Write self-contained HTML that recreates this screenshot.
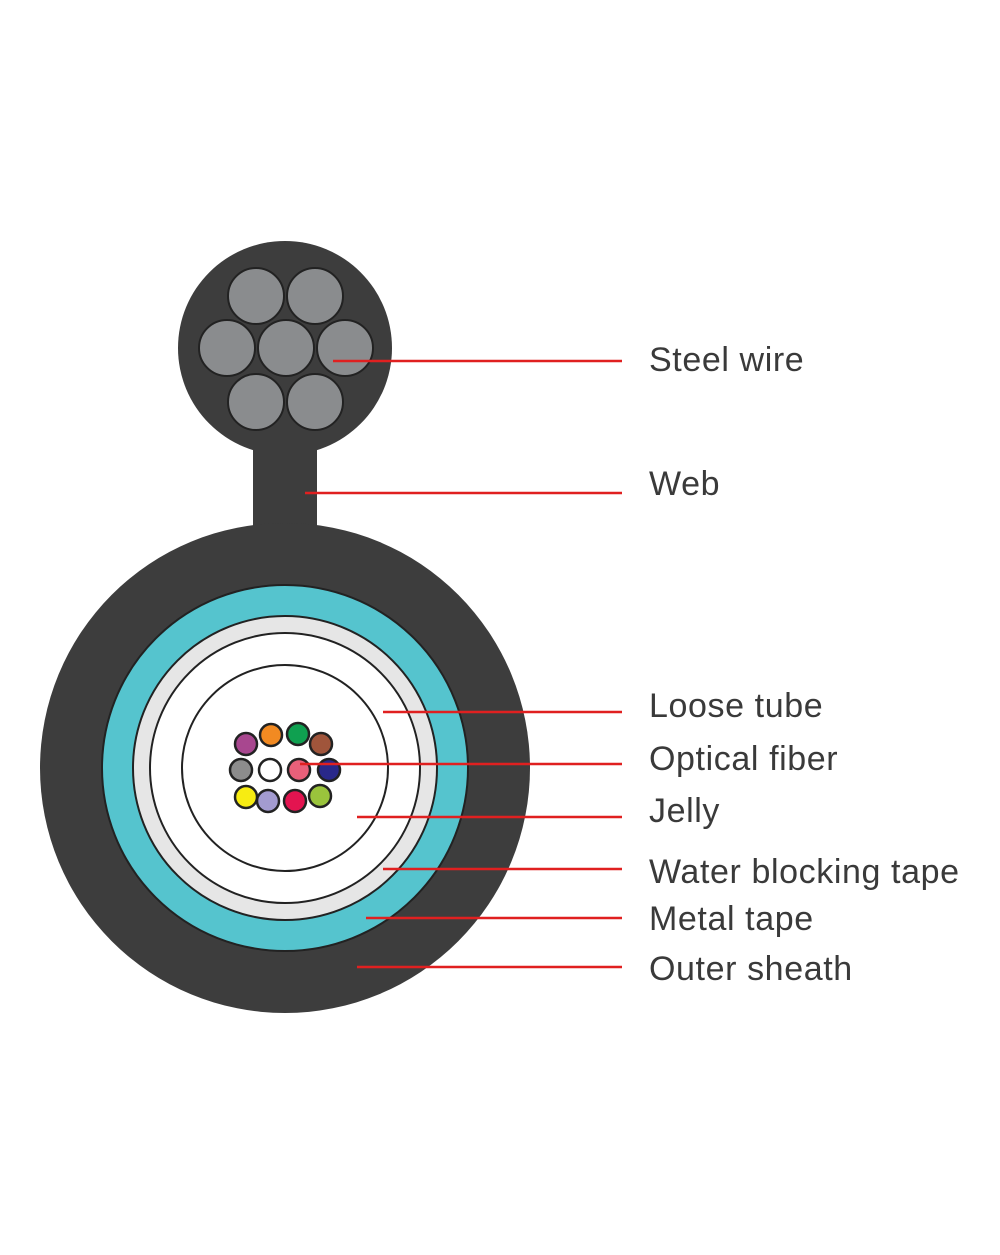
<!DOCTYPE html>
<html><head><style>body{margin:0;background:#fff}</style></head><body>
<svg width="1000" height="1250" xmlns="http://www.w3.org/2000/svg">
<rect width="1000" height="1250" fill="#fff"/>
<g fill="#3d3d3d">
<circle cx="285" cy="348" r="107"/>
<rect x="253" y="430" width="64" height="110"/>
<circle cx="285" cy="768" r="245"/>
</g>
<g fill="#8a8c8e" stroke="#222" stroke-width="2">
<circle cx="256" cy="296" r="28"/><circle cx="315" cy="296" r="28"/>
<circle cx="227" cy="348" r="28"/><circle cx="286" cy="348" r="28"/><circle cx="345" cy="348" r="28"/>
<circle cx="256" cy="402" r="28"/><circle cx="315" cy="402" r="28"/>
</g>
<circle cx="285" cy="768" r="183" fill="#55c4ce" stroke="#222" stroke-width="2"/>
<circle cx="285" cy="768" r="152" fill="#e6e6e6" stroke="#222" stroke-width="2"/>
<circle cx="285" cy="768" r="135" fill="#fff" stroke="#222" stroke-width="2"/>
<circle cx="285" cy="768" r="103" fill="#fff" stroke="#222" stroke-width="2"/>
<g stroke="#222" stroke-width="2.5">
<circle cx="271" cy="735" r="11" fill="#f28a22"/>
<circle cx="298" cy="734" r="11" fill="#0fa050"/>
<circle cx="246" cy="744" r="11" fill="#a8478f"/>
<circle cx="321" cy="744" r="11" fill="#a0553b"/>
<circle cx="241" cy="770" r="11" fill="#8c8c8c"/>
<circle cx="270" cy="770" r="11" fill="#fff"/>
<circle cx="299" cy="770" r="11" fill="#e9607a"/>
<circle cx="329" cy="770" r="11" fill="#29288a"/>
<circle cx="246" cy="797" r="11" fill="#f7ec12"/>
<circle cx="268" cy="801" r="11" fill="#a39bd0"/>
<circle cx="295" cy="801" r="11" fill="#e31450"/>
<circle cx="320" cy="796" r="11" fill="#9ac43c"/>
</g>
<g stroke="#e02020" stroke-width="2.5">
<line x1="333" y1="361" x2="622" y2="361"/>
<line x1="305" y1="493" x2="622" y2="493"/>
<line x1="383" y1="712" x2="622" y2="712"/>
<line x1="300" y1="764" x2="622" y2="764"/>
<line x1="357" y1="817" x2="622" y2="817"/>
<line x1="383" y1="869" x2="622" y2="869"/>
<line x1="366" y1="918" x2="622" y2="918"/>
<line x1="357" y1="967" x2="622" y2="967"/>
</g>
<g font-family="Liberation Sans, sans-serif" font-size="34" fill="#3a3a3a" letter-spacing="0.6">
<text x="649" y="371">Steel  wire</text>
<text x="649" y="495">Web</text>
<text x="649" y="717">Loose tube</text>
<text x="649" y="770">Optical fiber</text>
<text x="649" y="822">Jelly</text>
<text x="649" y="883">Water blocking tape</text>
<text x="649" y="930">Metal tape</text>
<text x="649" y="980">Outer sheath</text>
</g>
</svg>
</body></html>
